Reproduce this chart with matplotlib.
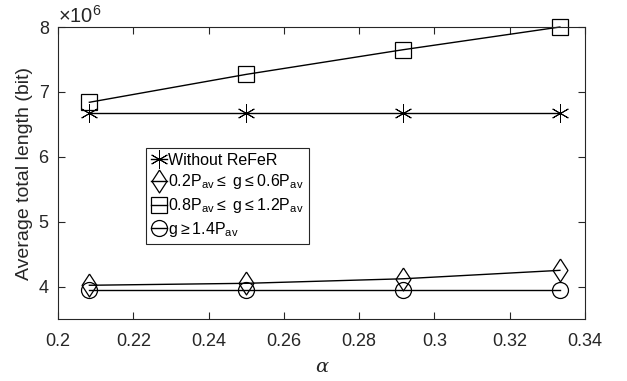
import numpy as np
import matplotlib
matplotlib.use("Agg")
import matplotlib.pyplot as plt
from matplotlib.ticker import ScalarFormatter

plt.rcParams["font.family"] = ["Liberation Sans", "DejaVu Sans"]
plt.rcParams["mathtext.fontset"] = "custom"
plt.rcParams["mathtext.rm"] = "Liberation Sans"

# Daten
alpha = [5 / 24, 0.25, 7 / 24, 1 / 3]
without_refer = [6.67e6, 6.67e6, 6.67e6, 6.67e6]
g_low = [4.02e6, 4.05e6, 4.12e6, 4.25e6]
g_mid = [6.84e6, 7.27e6, 7.65e6, 8.0e6]
g_high = [3.95e6, 3.95e6, 3.95e6, 3.95e6]

labels = [
    "Without ReFeR",
    r"0.2P$_{\rm av}\leq$ g$\leq$0.6P$_{\rm av}$",
    r"0.8P$_{\rm av}\leq$ g$\leq$1.2P$_{\rm av}$",
    r"g$\geq$1.4P$_{\rm av}$",
]

# MATLAB-Raute: schmaler als hoch
diamond = [(0, 1), (0.65, 0), (0, -1), (-0.65, 0), (0, 1)]

fig = plt.figure(figsize=(6.27, 3.81), dpi=100)
ax = fig.add_axes([0.0925, 0.1627, 0.8405, 0.7664])

kw = dict(color="black", lw=1.0, mfc="none", mec="black", mew=0.9, clip_on=False)
ax.plot(alpha, without_refer, marker=(6, 2, 0), ms=13, mew=0.7,
        color="black", lw=1.0, label=labels[0])
ax.plot(alpha, g_low, marker=diamond, ms=16.5, label=labels[1], **kw)
ax.plot(alpha, g_mid, marker="s", ms=11, label=labels[2], **kw)
ax.plot(alpha, g_high, marker="o", ms=11.5, label=labels[3], **kw)

ax.set_xlim(0.2, 0.34)
ax.set_ylim(3.5e6, 8e6)
ax.set_xticks(np.arange(0.2, 0.3401, 0.02))
ax.set_xticklabels(["0.2", "0.22", "0.24", "0.26", "0.28", "0.3", "0.32", "0.34"])
ax.set_yticks([4e6, 5e6, 6e6, 7e6, 8e6])
fmt = ScalarFormatter(useMathText=True)
fmt.set_powerlimits((0, 0))
ax.yaxis.set_major_formatter(fmt)
ax.yaxis.get_offset_text().set_fontsize(14.5)
ax.yaxis.get_offset_text().set_color("#262626")

for s in ax.spines.values():
    s.set_color("#262626")
    s.set_linewidth(0.8)
ax.tick_params(direction="in", top=True, right=True, labelsize=13,
               colors="#262626", length=5, width=0.8)
ax.tick_params(axis="x", pad=10)
ax.tick_params(axis="y", pad=6)

ax.set_xlabel("α", fontsize=14, color="#262626", family="DejaVu Serif",
              style="italic", labelpad=6)
ax.set_ylabel("Average total length (bit)", fontsize=14, color="#262626")

# Legende (kurze Linien durch Marker)
leg = ax.legend(loc="upper left", bbox_to_anchor=(0.167, 0.586), fontsize=11.5,
                handlelength=1.0, handletextpad=0.1, borderpad=0.3,
                labelspacing=0.3, borderaxespad=0, fancybox=False,
                framealpha=1, edgecolor="#262626")
leg.get_frame().set_linewidth(0.8)
leg.set_zorder(5)

fig.savefig("out.png", dpi=100)
